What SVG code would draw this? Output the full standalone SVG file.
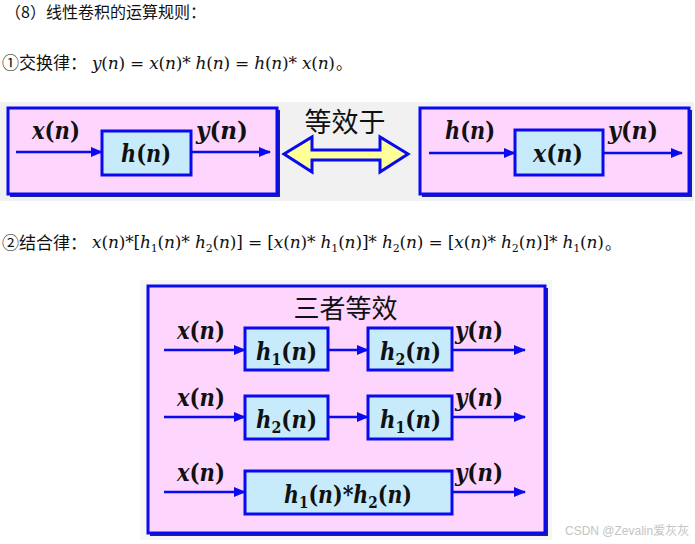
<svg xmlns="http://www.w3.org/2000/svg" width="695" height="544" viewBox="0 0 695 544">
<style>
.cn{fill:#111}
.eq{font-style:italic;font-size:17px;fill:#111}
.up{font-style:normal}
.m{font-style:italic;font-weight:bold;font-size:24px;fill:#111}
.sub{font-style:normal;font-size:16px}
.outer{fill:#fed5fd;stroke:#0a0af0;stroke-width:3}
.shadow{fill:#202090}
.inner{fill:#c8ebfb;stroke:#0a0af0;stroke-width:3}
.wire{stroke:#0a0af0;stroke-width:2.5;fill:none;marker-end:url(#ah)}
</style>
<defs>
<marker id="ah" markerUnits="userSpaceOnUse" markerWidth="12" markerHeight="10" refX="11" refY="5" orient="auto">
<path d="M0,0 L12,5 L0,10 z" fill="#0a0af0"/>
</marker>
</defs>
<rect width="695" height="544" fill="#fff"/>
<rect x="0" y="102" width="694" height="99" fill="#f1f1f1"/>
<rect x="140" y="280" width="412" height="260" fill="#f6f6f6"/>

<g font-family="'Noto Sans CJK SC', sans-serif">
<text class="cn" x="5" y="18" font-size="16">（8）线性卷积的运算规则：</text>
<text class="cn" x="2" y="69" font-size="17">①交换律：</text>
<text class="cn" x="336" y="69" font-size="16">。</text>
<text class="cn" x="2" y="249" font-size="17">②结合律：</text>
<text class="cn" x="605" y="249" font-size="16">。</text>
</g>

<g id="eq1" font-family="DejaVu Serif, serif">
<text class="eq" x="92" y="69" textLength="243" lengthAdjust="spacing">y<tspan class="up">(</tspan>n<tspan class="up">) = </tspan>x<tspan class="up">(</tspan>n<tspan class="up">)* </tspan>h<tspan class="up">(</tspan>n<tspan class="up">) = </tspan>h<tspan class="up">(</tspan>n<tspan class="up">)* </tspan>x<tspan class="up">(</tspan>n<tspan class="up">)</tspan></text>
</g>

<g id="eq2" font-family="DejaVu Serif, serif">
<text class="eq" x="92" y="248" textLength="512" lengthAdjust="spacing">x<tspan class="up">(</tspan>n<tspan class="up">)*[</tspan>h<tspan class="up" font-size="11" dy="4">1</tspan><tspan class="up" dy="-4">(</tspan>n<tspan class="up">)* </tspan>h<tspan class="up" font-size="11" dy="4">2</tspan><tspan class="up" dy="-4">(</tspan>n<tspan class="up">)] = [</tspan>x<tspan class="up">(</tspan>n<tspan class="up">)* </tspan>h<tspan class="up" font-size="11" dy="4">1</tspan><tspan class="up" dy="-4">(</tspan>n<tspan class="up">)]* </tspan>h<tspan class="up" font-size="11" dy="4">2</tspan><tspan class="up" dy="-4">(</tspan>n<tspan class="up">) = [</tspan>x<tspan class="up">(</tspan>n<tspan class="up">)* </tspan>h<tspan class="up" font-size="11" dy="4">2</tspan><tspan class="up" dy="-4">(</tspan>n<tspan class="up">)]* </tspan>h<tspan class="up" font-size="11" dy="4">1</tspan><tspan class="up" dy="-4">(</tspan>n<tspan class="up">)</tspan></text>
</g>

<!-- Top left system -->
<g id="sys1">
<rect class="shadow" x="10" y="110" width="270" height="87"/>
<rect class="outer" x="8" y="108" width="269" height="86"/>
</g>
<g id="h_box" font-family="DejaVu Serif, serif">
<rect class="inner" x="102" y="131" width="89" height="44"/>
<text class="m" x="121" y="162" font-size="26" textLength="50" lengthAdjust="spacingAndGlyphs">h<tspan class="up">(</tspan>n<tspan class="up">)</tspan></text>
</g>

<!-- Equivalence arrow -->
<g id="equiv">
<text class="cn" x="345" y="132" font-size="27" text-anchor="middle" font-family="'Noto Sans CJK SC', sans-serif">等效于</text>
<path d="M284,154 L312,137 L312,150 L380,150 L380,137 L408,154 L380,172 L380,160 L312,160 L312,172 Z" fill="#ffff99" stroke="#0a0af0" stroke-width="3" stroke-linejoin="miter"/>
</g>

<!-- Top right system -->
<g id="sys2">
<rect class="shadow" x="422" y="110" width="270" height="87"/>
<rect class="outer" x="420" y="108" width="269" height="86"/>
</g>
<g id="x_box" font-family="DejaVu Serif, serif">
<rect class="inner" x="515" y="130" width="88" height="45"/>
<text class="m" x="533" y="162" font-size="26" textLength="50" lengthAdjust="spacingAndGlyphs">x<tspan class="up">(</tspan>n<tspan class="up">)</tspan></text>
</g>

<!-- Bottom system -->
<g id="sys3">
<rect class="shadow" x="150" y="288" width="398" height="248"/>
<rect class="outer" x="148" y="286" width="397" height="247"/>
<text class="cn" x="345.5" y="318" font-size="26" text-anchor="middle" font-family="'Noto Sans CJK SC', sans-serif">三者等效</text>
</g>
<g id="r1_h1" font-family="DejaVu Serif, serif">
<rect class="inner" x="245" y="328" width="83" height="42"/>
<text class="m" x="256" y="360" textLength="61" lengthAdjust="spacingAndGlyphs">h<tspan class="sub" dy="5">1</tspan><tspan class="up" dy="-5">(</tspan>n<tspan class="up">)</tspan></text>
</g>
<g id="r1_h2" font-family="DejaVu Serif, serif">
<rect class="inner" x="368" y="328" width="84" height="42"/>
<text class="m" x="380" y="360" textLength="61" lengthAdjust="spacingAndGlyphs">h<tspan class="sub" dy="5">2</tspan><tspan class="up" dy="-5">(</tspan>n<tspan class="up">)</tspan></text>
</g>
<g id="r2_h2" font-family="DejaVu Serif, serif">
<rect class="inner" x="245" y="396" width="83" height="43"/>
<text class="m" x="256" y="428" textLength="61" lengthAdjust="spacingAndGlyphs">h<tspan class="sub" dy="5">2</tspan><tspan class="up" dy="-5">(</tspan>n<tspan class="up">)</tspan></text>
</g>
<g id="r2_h1" font-family="DejaVu Serif, serif">
<rect class="inner" x="368" y="396" width="84" height="43"/>
<text class="m" x="380" y="428" textLength="61" lengthAdjust="spacingAndGlyphs">h<tspan class="sub" dy="5">1</tspan><tspan class="up" dy="-5">(</tspan>n<tspan class="up">)</tspan></text>
</g>
<g id="r3_h12" font-family="DejaVu Serif, serif">
<rect class="inner" x="245" y="471" width="207" height="43"/>
<text class="m" x="284" y="503" textLength="128" lengthAdjust="spacingAndGlyphs">h<tspan class="sub" dy="5">1</tspan><tspan class="up" dy="-5">(</tspan>n<tspan class="up">)*</tspan>h<tspan class="sub" dy="5">2</tspan><tspan class="up" dy="-5">(</tspan>n<tspan class="up">)</tspan></text>
</g>

<g id="connectors">
<line class="wire" x1="16" y1="152" x2="102" y2="152"/>
<line class="wire" x1="191" y1="152" x2="270" y2="152"/>
<line class="wire" x1="429" y1="153" x2="515" y2="153"/>
<line class="wire" x1="603" y1="153" x2="682" y2="153"/>
<line class="wire" x1="164" y1="350" x2="245" y2="350"/>
<line class="wire" x1="328" y1="350" x2="368" y2="350"/>
<line class="wire" x1="452" y1="350" x2="525" y2="350"/>
<line class="wire" x1="164" y1="417" x2="245" y2="417"/>
<line class="wire" x1="328" y1="417" x2="368" y2="417"/>
<line class="wire" x1="452" y1="417" x2="525" y2="417"/>
<line class="wire" x1="164" y1="492" x2="245" y2="492"/>
<line class="wire" x1="452" y1="492" x2="525" y2="492"/>
</g>

<g id="labels" font-family="DejaVu Serif, serif">
<text class="m" x="32" y="139" textLength="48" lengthAdjust="spacingAndGlyphs">x<tspan class="up">(</tspan>n<tspan class="up">)</tspan></text>
<text class="m" x="196" y="139" textLength="52" lengthAdjust="spacingAndGlyphs">y<tspan class="up">(</tspan>n<tspan class="up">)</tspan></text>
<text class="m" x="445" y="139" textLength="50" lengthAdjust="spacingAndGlyphs">h<tspan class="up">(</tspan>n<tspan class="up">)</tspan></text>
<text class="m" x="608" y="139" textLength="50" lengthAdjust="spacingAndGlyphs">y<tspan class="up">(</tspan>n<tspan class="up">)</tspan></text>
<text class="m" x="177" y="339" textLength="48" lengthAdjust="spacingAndGlyphs">x<tspan class="up">(</tspan>n<tspan class="up">)</tspan></text>
<text class="m" x="455" y="339" textLength="48" lengthAdjust="spacingAndGlyphs">y<tspan class="up">(</tspan>n<tspan class="up">)</tspan></text>
<text class="m" x="177" y="406" textLength="48" lengthAdjust="spacingAndGlyphs">x<tspan class="up">(</tspan>n<tspan class="up">)</tspan></text>
<text class="m" x="455" y="406" textLength="48" lengthAdjust="spacingAndGlyphs">y<tspan class="up">(</tspan>n<tspan class="up">)</tspan></text>
<text class="m" x="177" y="481" textLength="48" lengthAdjust="spacingAndGlyphs">x<tspan class="up">(</tspan>n<tspan class="up">)</tspan></text>
<text class="m" x="455" y="481" textLength="48" lengthAdjust="spacingAndGlyphs">y<tspan class="up">(</tspan>n<tspan class="up">)</tspan></text>
</g>

<text x="565" y="535" font-family="'Liberation Sans','Noto Sans CJK SC',sans-serif" font-size="12" fill="#c4c4c4">CSDN @Zevalin爱灰灰</text>
</svg>
